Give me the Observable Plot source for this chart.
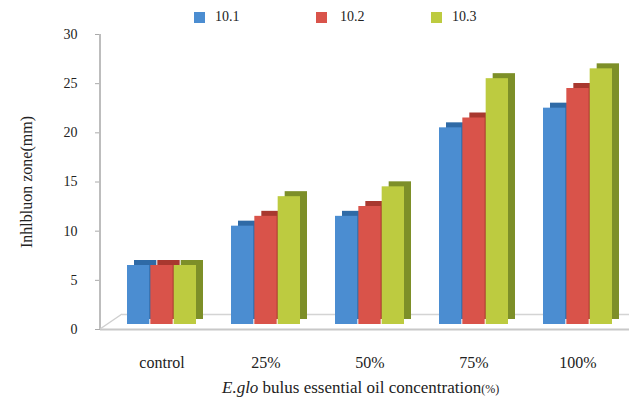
<!DOCTYPE html>
<html>
<head>
<meta charset="utf-8">
<script src="https://cdn.jsdelivr.net/npm/d3@7"></script>
<script src="https://cdn.jsdelivr.net/npm/@observablehq/plot@0.6"></script>
<style>
  body { margin: 0; background: #fff; }
  #wrap { position: relative; width: 629px; height: 399px; font-family: "Liberation Serif", "Times New Roman", serif; color: #222; }
  #legend { position: absolute; top: 12px; left: 0; width: 629px; height: 22px; font-size: 14px; }
  .li { position: absolute; top: 0; display: flex; align-items: center; }
  .sw { width: 11px; height: 11px; margin-right: 10px; display: inline-block; }
  #xtitle { position: absolute; left: 222px; top: 378px; font-size: 17px; white-space: nowrap; }
  #xtitle small { font-size: 12px; }
  svg text { font-family: "Liberation Serif", "Times New Roman", serif !important; }
</style>
</head>
<body>
<div id="wrap">
  <div id="chart"></div>
  <div id="legend"></div>
  <div id="xtitle"><i>E.glo</i> bulus essential oil concentration<small>(%)</small></div>
</div>
<script>
const categories = ["control", "25%", "50%", "75%", "100%"];
const seriesNames = ["10.1", "10.2", "10.3"];
const values101 = [6, 10, 11, 20, 22];
const values102 = [6, 11, 12, 21, 24];
const values103 = [6, 13, 14, 25, 26];
const yTicks = [0, 5, 10, 15, 20, 25, 30];
const frontColors = ["#4b8dd1", "#d9534a", "#bdcb40"];
const sideColors = ["#2f6aa6", "#a8382f", "#7d8f28"];

const seriesValues = [values101, values102, values103];
const data = [];
seriesNames.forEach((s, i) => categories.forEach((c, j) => data.push({cat: c, series: s, si: i, v: seriesValues[i][j]})));

const bw = 70 / 3;
const marks = [];
// floor
marks.push(Plot.ruleY([0], {stroke: "#c8c8c8", strokeWidth: 2}));
marks.push(Plot.ruleY([0], {stroke: "#d4d4d4", strokeWidth: 1.5, dy: -15, dx: 22}));
seriesNames.forEach((s, i) => {
  const d = data.filter(r => r.si === i);
  const insetLeft = i * bw, insetRight = (2 - i) * bw;
  marks.push(Plot.barY(d, {x: "cat", y: "v", fill: sideColors[i], insetLeft, insetRight, dx: 7, dy: -10}));
  marks.push(Plot.barY(d, {x: "cat", y: "v", fill: frontColors[i], insetLeft, insetRight, dy: -5}));
});

const plot = Plot.plot({
  width: 629,
  height: 399,
  marginTop: 34,
  marginBottom: 70,
  marginLeft: 100,
  marginRight: 0,
  style: {fontFamily: "Liberation Serif, Times New Roman, serif", fontSize: "14px", color: "#222", background: "white", overflow: "visible"},
  x: {domain: categories, paddingInner: 0.333, paddingOuter: 0.186, align: 0.62, tickSize: 0, tickPadding: 27, label: null},
  y: {domain: [0, 30], ticks: yTicks, tickSize: 5, tickPadding: 18, label: "Inhlbluon zone(mm)", labelAnchor: "center", labelOffset: 80, labelArrow: "none"},
  marks
});
document.getElementById("chart").appendChild(plot);

// decorative axis line and floor edge, from the plot's own scales
const ys = plot.scale("y");
const svg = d3.select(plot);
svg.selectAll("text").attr("font-family", "Liberation Serif, Times New Roman, serif");
svg.selectAll('g[aria-label="x-axis tick label"]').attr("font-size", 16);
svg.selectAll('g[aria-label="y-axis label"]').attr("font-size", 16);
svg.selectAll('g[aria-label="y-axis tick"]').attr("stroke", "#aaa");
svg.append("line").attr("x1", 100).attr("x2", 100).attr("y1", ys.apply(0)).attr("y2", ys.apply(30)).attr("stroke", "#bdbdbd").attr("stroke-width", 2);
svg.append("line").attr("x1", 100).attr("x2", 122).attr("y1", ys.apply(0)).attr("y2", ys.apply(0) - 15).attr("stroke", "#cfcfcf").attr("stroke-width", 1.5);

// legend
const legendPos = [[194, 215], [316, 340], [431, 452]];
const lg = document.getElementById("legend");
seriesNames.forEach((s, i) => {
  const sw = document.createElement("div");
  sw.className = "li"; sw.style.left = legendPos[i][0] + "px";
  sw.innerHTML = `<span class="sw" style="background:${frontColors[i]}"></span>`;
  lg.appendChild(sw);
  const t = document.createElement("div");
  t.className = "li"; t.style.left = legendPos[i][1] + "px"; t.style.top = "-3px";
  t.textContent = s;
  lg.appendChild(t);
});
</script>
</body>
</html>
